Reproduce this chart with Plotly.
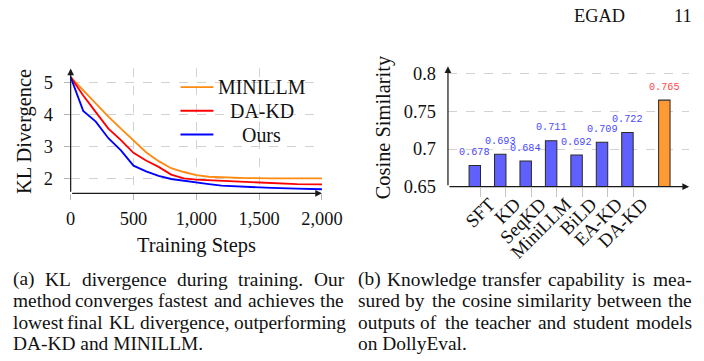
import plotly.graph_objects as go

# ---------------- data ----------------
steps = [0, 100, 200, 300, 400, 500, 600, 700, 800, 900, 1000, 1100, 1200, 1400, 1600, 1800, 2000]
minillm = [5.18, 4.76, 4.34, 3.94, 3.56, 3.18, 2.82, 2.54, 2.32, 2.20, 2.10, 2.05, 2.03, 2.01, 2.00, 2.00, 2.00]
dakd = [5.18, 4.60, 4.08, 3.56, 3.20, 2.80, 2.56, 2.36, 2.12, 2.00, 1.96, 1.94, 1.92, 1.89, 1.86, 1.82, 1.81]
ours = [5.18, 4.12, 3.78, 3.26, 2.88, 2.40, 2.22, 2.08, 1.98, 1.92, 1.87, 1.82, 1.77, 1.73, 1.70, 1.68, 1.66]
series_names = ["MINILLM", "DA-KD", "Ours"]
series_colors = ["#ff8a10", "#ff0000", "#0000ff"]

methods = ["SFT", "KD", "SeqKD", "MiniLLM", "BiLD", "EA-KD", "DA-KD"]
method_pos = [1, 2, 3, 4, 5, 6, 7]
cos_sim = [0.678, 0.693, 0.684, 0.711, 0.692, 0.709, 0.722]
ours_pos = [8]
ours_sim = [0.765]

x_ticks_left = [0, 500, 1000, 1500, 2000]
y_ticks_left = [2, 3, 4, 5]
y_ticks_right = [0.65, 0.7, 0.75, 0.8]
y_ticktext_right = ["0.65", "0.7", "0.75", "0.8"]

caption_a = [
    "(a) KL divergence during training. Our",
    "method converges fastest and achieves the",
    "lowest final KL divergence, outperforming",
    "DA-KD and MINILLM.",
]
caption_b = [
    "(b) Knowledge transfer capability is mea-",
    "sured by the cosine similarity between the",
    "outputs of the teacher and student models",
    "on DollyEval.",
]
header_title = "EGAD"
header_page = "11"

# ---------------- helpers ----------------
W, H = 704, 361            # design coordinates (reference pixels)
FIG_W, FIG_H = 719, 369    # figure size (the viewer shows it at ~98%)
SC = FIG_W / W             # pixel-size compensation
SERIF = "Liberation Serif"
MONO = "Liberation Mono"


def px(x):
    return x / W


def py(y):
    return 1 - y / H


def s(v):
    return v * SC


TW = {' ': 250, '(': 333, ')': 333, '-': 333, '.': 250, ',': 250,
      'a': 444, 'b': 500, 'c': 444, 'd': 500, 'e': 444, 'f': 333, 'g': 500, 'h': 500,
      'i': 278, 'j': 278, 'k': 500, 'l': 278, 'm': 778, 'n': 500, 'o': 500, 'p': 500,
      'q': 500, 'r': 333, 's': 389, 't': 278, 'u': 500, 'v': 500, 'w': 722, 'x': 500,
      'y': 500, 'z': 444,
      'A': 722, 'B': 667, 'C': 667, 'D': 722, 'E': 611, 'F': 556, 'G': 722, 'H': 722,
      'I': 333, 'J': 389, 'K': 722, 'L': 611, 'M': 889, 'N': 722, 'O': 722, 'P': 556,
      'Q': 722, 'R': 667, 'S': 556, 'T': 611, 'U': 722, 'V': 722, 'W': 944, 'X': 722,
      'Y': 722, 'Z': 611}


def text_w(t, size):
    return sum(TW.get(c, 500) for c in t) / 1000.0 * size


fig = go.Figure()

for name, vals, col in zip(series_names, [minillm, dakd, ours], series_colors):
    fig.add_trace(go.Scatter(x=steps, y=vals, mode="lines", name=name,
                             line=dict(color=col, width=s(1.8)),
                             xaxis="x", yaxis="y", showlegend=False))

fig.add_trace(go.Bar(x=method_pos, y=cos_sim, width=0.45, offset=-0.45,
                     marker=dict(color="#6060ff", line=dict(color="#2a2a2a", width=s(1))),
                     xaxis="x2", yaxis="y2", showlegend=False))
fig.add_trace(go.Bar(x=ours_pos, y=ours_sim, width=0.45, offset=0.0,
                     marker=dict(color="#ff9933", line=dict(color="#2a2a2a", width=s(1))),
                     xaxis="x2", yaxis="y2", showlegend=False))

annotations = []
shapes = []

for xv, yv in zip(method_pos, cos_sim):
    annotations.append(dict(x=xv - 0.225, y=yv, xref="x2", yref="y2", text=f"{yv:.3f}",
                            showarrow=False, yshift=s(13), yanchor="middle", borderpad=0,
                            font=dict(family=MONO, size=s(10), color="#4a4aff")))
for xv, yv in zip(ours_pos, ours_sim):
    annotations.append(dict(x=xv + 0.225, y=yv, xref="x2", yref="y2", text=f"{yv:.3f}",
                            showarrow=False, yshift=s(13), yanchor="middle", borderpad=0,
                            font=dict(family=MONO, size=s(10), color="#ff4a4a")))

xl_range = [0, 2000]
yl_range = [1.53, 5.45]
xr_range = [-0.28, 9.2]
yr_range = [0.65, 0.81]

arrow_style = dict(showarrow=True, arrowhead=2, arrowsize=1.1, arrowwidth=s(1.2),
                   arrowcolor="#1a1a1a", text="", standoff=0, startstandoff=0)
annotations.append(dict(x=xl_range[1], y=yl_range[0], ax=xl_range[0], ay=yl_range[0],
                        xref="x", yref="y", axref="x", ayref="y", **arrow_style))
annotations.append(dict(x=xl_range[0], y=yl_range[1], ax=xl_range[0], ay=yl_range[0],
                        xref="x", yref="y", axref="x", ayref="y", **arrow_style))
annotations.append(dict(x=xr_range[1], y=yr_range[0], ax=xr_range[0], ay=yr_range[0],
                        xref="x2", yref="y2", axref="x2", ayref="y2", **arrow_style))
annotations.append(dict(x=xr_range[0], y=yr_range[1], ax=xr_range[0], ay=yr_range[0],
                        xref="x2", yref="y2", axref="x2", ayref="y2", **arrow_style))

annotations.append(dict(x=px(19.3), y=py(130.5), xref="paper", yref="paper", text="KL Divergence",
                        textangle=-90, showarrow=False, xanchor="center", yanchor="middle",
                        font=dict(family=SERIF, size=s(20), color="#111")))
annotations.append(dict(x=px(195), y=py(246), xref="paper", yref="paper", text="Training Steps",
                        showarrow=False, xanchor="center", yanchor="middle",
                        font=dict(family=SERIF, size=s(20), color="#111")))
annotations.append(dict(x=px(384), y=py(126.7), xref="paper", yref="paper", text="Cosine Similarity",
                        textangle=-90, showarrow=False, xanchor="center", yanchor="middle",
                        font=dict(family=SERIF, size=s(20), color="#111")))

leg_rows = [86, 110, 134]
for name, col, ry in zip(series_names, series_colors, leg_rows):
    shapes.append(dict(type="line", xref="paper", yref="paper",
                       x0=px(178.3), x1=px(211.7), y0=py(ry), y1=py(ry),
                       line=dict(color=col, width=s(1.8))))
    annotations.append(dict(x=px(260.7), y=py(ry), xref="paper", yref="paper", text=name,
                            showarrow=False, xanchor="center", yanchor="middle",
                            font=dict(family=SERIF, size=s(19.5), color="#111")))

annotations.append(dict(x=px(603.5), y=py(13.7), xref="paper", yref="paper", text=header_title,
                        showarrow=False, xanchor="center", yanchor="middle",
                        font=dict(family=SERIF, size=s(18), color="#111")))
annotations.append(dict(x=px(688.5), y=py(13.7), xref="paper", yref="paper", text=header_page,
                        showarrow=False, xanchor="center", yanchor="middle",
                        font=dict(family=SERIF, size=s(18), color="#111")))

CAP_SIZE = 19.0
line_y = [280.3, 302.0, 323.7, 345.4]


def cap_ann(text, x, anchor, yy):
    return dict(x=px(x), y=py(yy), xref="paper", yref="paper", text=text,
                showarrow=False, xanchor=anchor, yanchor="middle", borderpad=0,
                font=dict(family=SERIF, size=s(CAP_SIZE), color="#111"))


def add_caption(lines, x0, x1):
    for li, (line, yy) in enumerate(zip(lines, line_y)):
        words = line.split(" ")
        last = (li == len(lines) - 1)
        if last or len(words) == 1:
            annotations.append(cap_ann(line, x0, "left", yy))
            continue
        widths = [text_w(w, CAP_SIZE) for w in words]
        gap = (x1 - x0 - sum(widths)) / (len(words) - 1)
        xpos = x0
        for i, (w, ww) in enumerate(zip(words, widths)):
            if i == 0:
                annotations.append(cap_ann(w, xpos, "left", yy))
            else:
                annotations.append(cap_ann(w, xpos + ww / 2, "center", yy))
            xpos += ww + gap


add_caption(caption_a, 7.3, 344.0)
add_caption(caption_b, 358.0, 697.0)

grid_common = dict(showgrid=True, gridcolor="#d2d2d2", griddash="dash", gridwidth=s(1),
                   zeroline=False, showline=False)

fig.update_layout(
    width=FIG_W, height=FIG_H, autosize=False,
    margin=dict(l=0, r=0, t=0, b=0),
    paper_bgcolor="white", plot_bgcolor="white",
    barmode="overlay",
    font=dict(family=SERIF, color="#111"),
    xaxis=dict(domain=[px(66.7), px(322.0)], range=xl_range, tickvals=x_ticks_left,
               tickformat=",", ticks="outside", ticklen=s(6), tickcolor="#b5b5b5",
               tickfont=dict(family=SERIF, size=s(18), color="#111"), ticklabelstandoff=2,
               anchor="y", **grid_common),
    yaxis=dict(domain=[py(193.5), py(67.2)], range=yl_range, tickvals=y_ticks_left,
               ticks="outside", ticklen=s(6), tickcolor="#b5b5b5",
               tickfont=dict(family=SERIF, size=s(18), color="#111"), ticklabelstandoff=7,
               anchor="x", **grid_common),
    xaxis2=dict(domain=[px(450.0), px(695.0)], range=xr_range, tickvals=method_pos,
                ticktext=methods, tickangle=-45, ticks="outside", ticklen=s(9), tickcolor="#c4c4c4",
                tickfont=dict(family=SERIF, size=s(18.5), color="#111"),
                ticklabelstandoff=-11, ticklabelshift=9,
                showgrid=False, zeroline=False, showline=False, anchor="y2"),
    yaxis2=dict(domain=[py(186.7), py(65.0)], range=yr_range, tickvals=y_ticks_right,
                ticktext=y_ticktext_right, ticks="",
                tickfont=dict(family=SERIF, size=s(18), color="#111"), ticklabelstandoff=11,
                anchor="x2", **grid_common),
    annotations=annotations,
    shapes=shapes,
)

fig.write_html("out.html", config={"responsive": False})
